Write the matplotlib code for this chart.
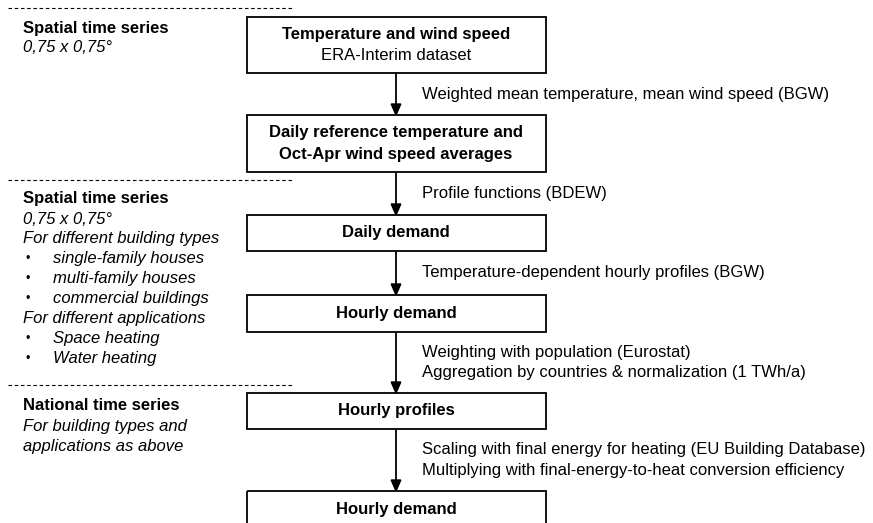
import matplotlib
matplotlib.use("Agg")
import matplotlib.pyplot as plt
from matplotlib.patches import Rectangle, Polygon

plt.rcParams['font.family'] = ['Liberation Sans', 'DejaVu Sans']

# ---- content ----
box_titles = [
    ["Temperature and wind speed"],
    ["Daily reference temperature and", "Oct-Apr wind speed averages"],
    ["Daily demand"],
    ["Hourly demand"],
    ["Hourly profiles"],
    ["Hourly demand"],
]
box_subtitles = ["ERA-Interim dataset", None, None, None, None, None]
step_labels = [
    ["Weighted mean temperature, mean wind speed (BGW)"],
    ["Profile functions (BDEW)"],
    ["Temperature-dependent hourly profiles (BGW)"],
    ["Weighting with population (Eurostat)",
     "Aggregation by countries & normalization (1 TWh/a)"],
    ["Scaling with final energy for heating (EU Building Database)",
     "Multiplying with final-energy-to-heat conversion efficiency"],
]
side_headers = ["Spatial time series", "Spatial time series", "National time series"]
side_lines = [
    [("0,75 x 0,75°", False)],
    [("0,75 x 0,75°", False),
     ("For different building types", False),
     ("single-family houses", True),
     ("multi-family houses", True),
     ("commercial buildings", True),
     ("For different applications", False),
     ("Space heating", True),
     ("Water heating", True)],
    [("For building types and", False),
     ("applications as above", False)],
]

# ---- layout (pixel coordinates, origin top-left) ----
W, H = 873, 523
fig = plt.figure(figsize=(W / 100, H / 100), dpi=100)
ax = fig.add_axes([0, 0, 1, 1])
ax.set_xlim(0, W)
ax.set_ylim(H, 0)
ax.axis('off')

bx0, bx1 = 247, 546
bxc = (bx0 + bx1) / 2 - 0.5
box_tops = [17, 115, 215, 295, 393, 491]
box_bots = [73, 172, 251, 332, 429, 540]
fs = 12
box_lh = 21.5
lab_lh = 21
side_lh = 20

for i, lines in enumerate(box_titles):
    t, b = box_tops[i], box_bots[i]
    ax.add_patch(Rectangle((bx0, t), bx1 - bx0, b - t, fill=False,
                           edgecolor='black', linewidth=1.3, clip_on=True))
    all_lines = [(l, 'bold') for l in lines]
    if box_subtitles[i]:
        all_lines.append((box_subtitles[i], 'normal'))
    n = len(all_lines)
    hb = b if i < len(box_titles) - 1 else t + 37
    mid = (t + hb) / 2
    for k, (txt, wgt) in enumerate(all_lines):
        y = mid + (k - (n - 1) / 2) * box_lh
        ax.text(bxc, y, txt, ha='center', va='center', fontsize=fs,
                fontweight=wgt, color='black')

# arrows + step labels
for i, lines in enumerate(step_labels):
    y0 = box_bots[i]
    y1 = box_tops[i + 1]
    ax.plot([bxc, bxc], [y0, y1 - 10], color='black', linewidth=1.3,
            solid_capstyle='butt')
    ax.add_patch(Polygon([[bxc - 4.8, y1 - 11], [bxc + 4.8, y1 - 11],
                          [bxc, y1]], closed=True, color='black'))
    mid = (y0 + y1) / 2
    n = len(lines)
    for k, txt in enumerate(lines):
        y = mid + (k - (n - 1) / 2) * lab_lh
        ax.text(422, y, txt, ha='left', va='center', fontsize=fs,
                color='black')

# dashed separators
for y in [8, 180, 385]:
    ax.plot([8, 293], [y, y], color='black', linewidth=0.8,
            linestyle=(0, (3.2, 2.4)))

# side annotations
side_start = [28, 199, 406]
for g in range(3):
    y = side_start[g]
    ax.text(23, y, side_headers[g], ha='left', va='center', fontsize=fs,
            fontweight='bold', color='black')
    for txt, bullet in side_lines[g]:
        y += side_lh
        if bullet:
            ax.text(25, y, "•", ha='left', va='center', fontsize=fs * 0.75,
                    color='black')
            ax.text(53, y, txt, ha='left', va='center', fontsize=fs,
                    style='italic', color='black')
        else:
            ax.text(23, y, txt, ha='left', va='center', fontsize=fs,
                    style='italic', color='black')

fig.savefig("out.png", dpi=100, facecolor='white')
